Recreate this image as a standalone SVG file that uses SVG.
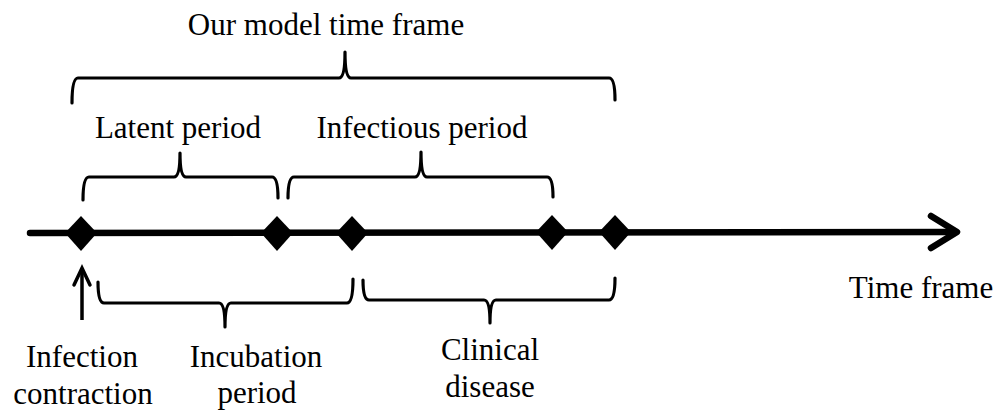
<svg xmlns="http://www.w3.org/2000/svg" width="998" height="412" viewBox="0 0 998 412">
<style>
text{font-family:"Liberation Serif","Times New Roman",serif;font-size:31px;fill:#000;text-anchor:middle}
.br{fill:none;stroke:#000;stroke-width:3.2;stroke-linejoin:round;stroke-linecap:round}
.ln{fill:none;stroke:#000;stroke-width:6.5;stroke-linecap:round;stroke-linejoin:round}
.dm{fill:#000}
</style>
<rect width="998" height="412" fill="#fff"/>
<g id="connectors">
<path class="ln" d="M30,233 L955,232"/>
<path class="ln" d="M931,216 L957,232 L931,248"/>
<path d="M82,320 L82,271" fill="none" stroke="#000" stroke-width="3.5"/>
<path d="M74,285 L82,268 L90,285" fill="none" stroke="#000" stroke-width="3.5" stroke-linecap="round" stroke-linejoin="miter"/>
<path class="br" d="M72,103 Q72,78 78,78 L339,78 Q345,78 345,52 Q345,78 351,78 L609,78 Q615,78 615,100"/>
<path class="br" d="M83,200 Q83,177 89,177 L174,177 Q180,177 180,153 Q180,177 186,177 L272,177 Q278,177 278,198"/>
<path class="br" d="M288,198 Q288,177 294,177 L415,177 Q421,177 421,152 Q421,177 427,177 L547,177 Q553,177 553,197"/>
<path class="br" d="M98,282 Q98,303 104,303 L219,303 Q225,303 225,327 Q225,303 231,303 L347,303 Q353,303 353,279"/>
<path class="br" d="M363,280 Q363,300 369,300 L484,300 Q490,300 490,323 Q490,300 496,300 L609,300 Q615,300 615,278"/>
</g>
<g id="n1"><polygon class="dm" points="81,216 97,233 81,251 65,233"/></g>
<g id="n2"><polygon class="dm" points="277,216 293,233 277,251 261,233"/></g>
<g id="n3"><polygon class="dm" points="352,216 368,233 352,251 336,233"/></g>
<g id="n4"><polygon class="dm" points="552,215 568,232 552,250 536,232"/></g>
<g id="n5"><polygon class="dm" points="615,215 631,232 615,250 599,232"/></g>
<g id="labels">
<text x="326" y="35">Our model time frame</text>
<text x="178" y="138">Latent period</text>
<text x="422" y="138">Infectious period</text>
<text x="921" y="298">Time frame</text>
<text x="82" y="367">Infection</text>
<text x="83" y="404">contraction</text>
<text x="256" y="367">Incubation</text>
<text x="257" y="403">period</text>
<text x="490" y="360">Clinical</text>
<text x="490" y="397">disease</text>
</g>
</svg>
